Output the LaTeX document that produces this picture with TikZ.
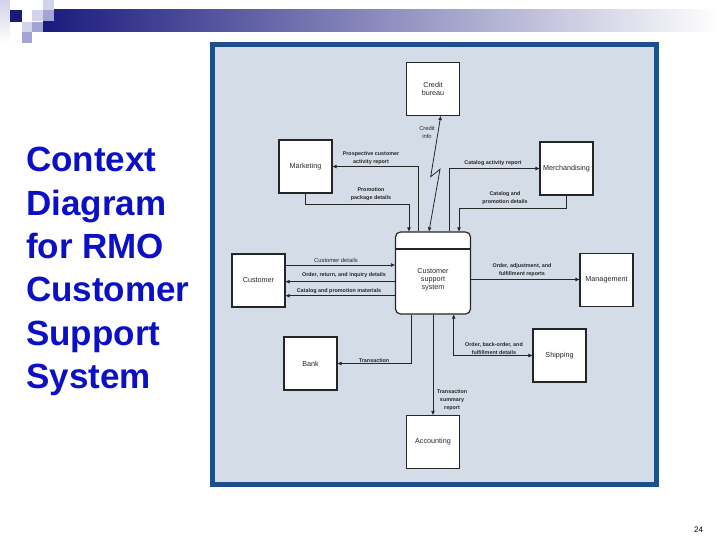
\documentclass[tikz,border=0pt]{standalone}
\usepackage{fontspec}
\setmainfont{Liberation Sans}
\usetikzlibrary{arrows.meta}
\definecolor{panel}{HTML}{D4DDE7}
\definecolor{frame}{HTML}{1C4F8C}
\definecolor{ink}{HTML}{262626}
\definecolor{titleblue}{HTML}{0C10C4}
\definecolor{navy}{HTML}{1A1A7E}
\definecolor{lav}{HTML}{D2D2EA}
\definecolor{lavm}{HTML}{A4A4D4}
\definecolor{grad}{HTML}{9898B4}
\begin{document}
\begin{tikzpicture}[x=1pt,y=-1pt,
  box/.style={draw=ink, line width=1.2pt, fill=white, minimum width=53pt, minimum height=53pt,
    inner sep=1pt, align=center, font=\fontsize{7.2}{8}\selectfont, text=ink},
  flow/.style={draw=ink, line width=0.8pt, -{Triangle[length=4pt,width=3.4pt]}},
  flowtwo/.style={draw=ink, line width=0.8pt, {Triangle[length=4pt,width=3.4pt]}-{Triangle[length=4pt,width=3.4pt]}},
  lbl/.style={font=\fontsize{5.4}{8}\selectfont\bfseries, align=center, inner sep=0pt, text=ink},
  lblr/.style={font=\fontsize{5.8}{8}\selectfont, align=center, inner sep=0pt, text=ink},
  ttl/.style={font=\fontsize{35}{43}\selectfont\bfseries, text=titleblue, anchor=base west, inner sep=0pt}]
\useasboundingbox (0,0) rectangle (720,540);
\fill[white] (0,0) rectangle (720,540);
% header decoration
\shade[top color=lav, bottom color=white] (0,0) rectangle (10,43);
\shade[left color=navy, middle color=grad, right color=white] (43,10) rectangle (720,32);
\fill[navy] (10,10) rectangle (22,22);
\fill[lav] (32,10) rectangle (43,21);
\fill[lav] (43,0) rectangle (54,10);
\fill[lavm] (43,10) rectangle (54,21);
\fill[lav] (22,22) rectangle (32,32);
\fill[lavm] (32,22) rectangle (43,32);
\fill[lavm] (22,32) rectangle (32,43);
% title
\node[ttl] (t1) at (26,172) {Context};
\node[ttl] (t2) at (26,215.3) {Diagram};
\node[ttl] (t3) at (26,258.6) {for RMO};
\node[ttl] (t4) at (26,301.9) {Customer};
\node[ttl] (t5) at (26,345.2) {Support};
\node[ttl] (t6) at (26,388.5) {System};
\node[font=\fontsize{8}{9}\selectfont, inner sep=0pt] (pg) at (698.5,530) {24};
% panel
\fill[panel] (212.5,44.5) rectangle (656.5,484.5);
\draw[frame, line width=5pt] (212.5,44.5) rectangle (656.5,484.5);
% boxes
\node[box] (cb) at (433,89) {Credit\\bureau};
\node[box] (mkt) at (305.5,166.5) {Marketing};
\node[box] (mer) at (566.5,168.5) {Merchandising};
\node[box] (cust) at (258.5,280.5) {Customer};
\node[box] (mgmt) at (606.5,280) {Management};
\node[box] (bank) at (310.5,363.5) {Bank};
\node[box] (ship) at (559.5,355.5) {Shipping};
\node[box] (acc) at (433,442) {Accounting};
\node[draw=ink, line width=1.2pt, fill=white, rounded corners=5pt, minimum width=75pt, minimum height=82pt, inner sep=0pt] (cen) at (433,273) {};
\node[box, draw=none, fill=none, minimum width=0pt, minimum height=0pt, inner sep=0pt] (cenlab) at (433,280) {Customer\\support\\system};
% helper coordinates
\coordinate (y249) at (0,249);
\coordinate (x409) at (409,0);
\coordinate (x418) at (418,0);
\coordinate (x429) at (429,0);
\coordinate (xz) at (440.7,0);
\coordinate (x449) at (449,0);
\coordinate (x459) at (459,0);
\coordinate (x411) at (411,0);
\coordinate (xsh) at (453.7,0);
\coordinate (y204) at (0,204);
\coordinate (y208) at (0,208);
\coordinate (y265) at (0,265);
\coordinate (y282) at (0,281.7);
\coordinate (y296) at (0,295.7);
\coordinate (y279) at (0,279.5);
\coordinate (z1) at (440,169.3);
\coordinate (z2) at (430.7,176.7);
\draw[ink, line width=1.2pt] (cen.west |- y249) -- (cen.east |- y249);
% connectors
\draw[flow] (cen.north -| x418) |- (mkt.east);
\draw[flow] (mkt.south) -- (mkt.south |- y204) -- (x409 |- y204) -- (cen.north -| x409);
\draw[flowtwo] (cen.north -| x429) -- (z1) -- (z2) -- (cb.south -| xz);
\draw[flow] (cen.north -| x449) |- (mer.west);
\draw[flow] (mer.south) -- (mer.south |- y208) -- (x459 |- y208) -- (cen.north -| x459);
\draw[flow] (cust.east |- y265) -- (cen.west |- y265);
\draw[flow] (cen.west |- y282) -- (cust.east |- y282);
\draw[flow] (cen.west |- y296) -- (cust.east |- y296);
\draw[flow] (cen.east |- y279) -- (mgmt.west |- y279);
\draw[flow] (cen.south -| x411) |- (bank.east);
\draw[flow] (cen.south) -- (acc.north);
\draw[flowtwo] (ship.west) -| (cen.south -| xsh);
% labels
\node[lbl] (l1) at (371,158) {Prospective customer\\activity report};
\node[lbl] (l2) at (371,194) {Promotion\\package details};
\node[lblr] (l3) at (427,132) {Credit\\info};
\node[lbl] (l4) at (493,163) {Catalog activity report};
\node[lbl] (l5) at (505,198) {Catalog and\\promotion details};
\node[lblr] (l6) at (336,260) {Customer details};
\node[lbl] (l7) at (344,275.6) {Order, return, and inquiry details};
\node[lbl] (l8) at (339,291) {Catalog and promotion materials};
\node[lbl] (l9) at (522,269.7) {Order, adjustment, and\\fulfillment reports};
\node[lbl] (l10) at (374,361) {Transaction};
\node[lbl] (l11) at (452,400) {Transaction\\summary\\report};
\node[lbl] (l12) at (494,349) {Order, back-order, and\\fulfillment details};
\end{tikzpicture}
\end{document}
